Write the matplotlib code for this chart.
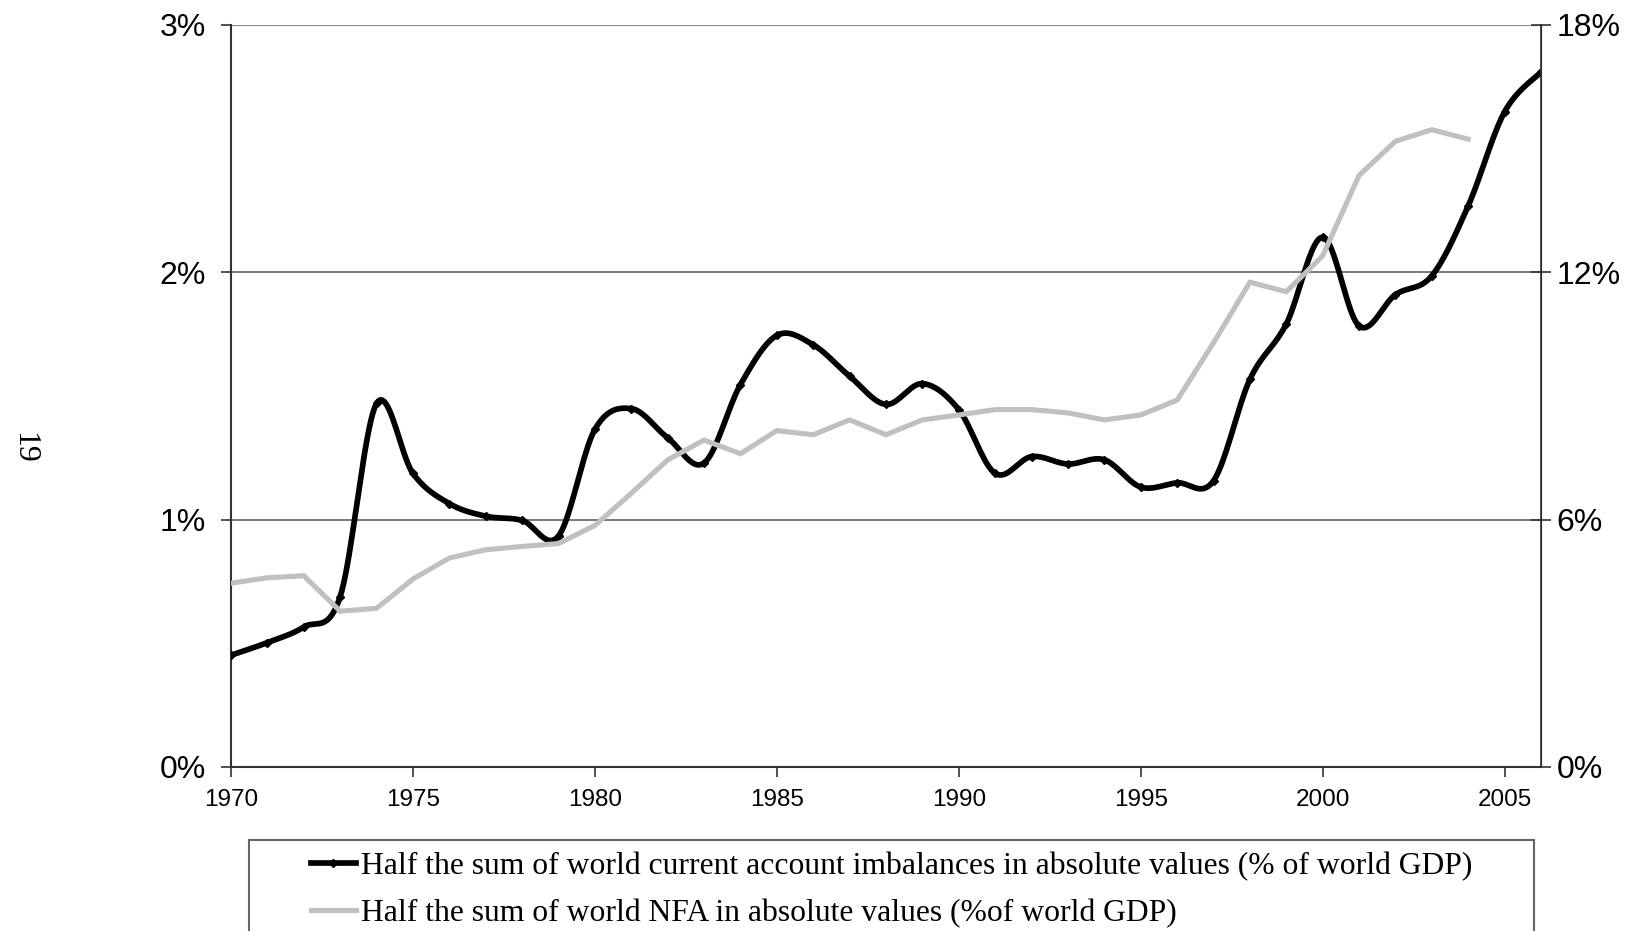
import numpy as np
import matplotlib
matplotlib.use("Agg")
import matplotlib.pyplot as plt
from matplotlib.patches import Rectangle
from matplotlib.lines import Line2D
from matplotlib.ticker import FuncFormatter, FixedLocator

years_ca = list(range(1970, 2007))
ca = [0.452, 0.503, 0.566, 0.689, 1.47, 1.187, 1.065, 1.014, 0.997, 0.934,
      1.365, 1.449, 1.331, 1.229, 1.546, 1.745, 1.707, 1.58, 1.466, 1.55,
      1.445, 1.187, 1.255, 1.225, 1.242, 1.132, 1.149, 1.157, 1.567, 1.791,
      2.142, 1.783, 1.91, 1.986, 2.269, 2.649, 2.81]

years_nfa = list(range(1970, 2005))
nfa = [4.46, 4.59, 4.64, 3.78, 3.85, 4.56, 5.07, 5.27, 5.35, 5.42,
       5.86, 6.64, 7.45, 7.93, 7.6, 8.16, 8.06, 8.42, 8.06, 8.42,
       8.54, 8.67, 8.67, 8.59, 8.42, 8.54, 8.9, 10.29, 11.76, 11.53,
       12.4, 14.35, 15.18, 15.46, 15.23]

label_ca = "Half the sum of world current account imbalances in absolute values (% of world GDP)"
label_nfa = "Half the sum of world NFA in absolute values (%of world GDP)"
page_number = "19"


def smooth(x, y, n=20):
    """Excel-style smoothed line (Catmull-Rom Bezier)."""
    x = np.asarray(x, float)
    y = np.asarray(y, float)
    P = np.column_stack([x, y])
    out = []
    for i in range(len(P) - 1):
        p0 = P[i - 1] if i > 0 else P[i]
        p1 = P[i]
        p2 = P[i + 1]
        p3 = P[i + 2] if i + 2 < len(P) else P[i + 1]
        c1 = p1 + (p2 - p0) / 6.0
        c2 = p2 - (p3 - p1) / 6.0
        t = np.linspace(0, 1, n, endpoint=(i == len(P) - 2))[:, None]
        seg = ((1 - t) ** 3) * p1 + 3 * ((1 - t) ** 2) * t * c1 + 3 * (1 - t) * t ** 2 * c2 + t ** 3 * p2
        out.append(seg)
    out = np.vstack(out)
    return out[:, 0], out[:, 1]


W, H = 1638, 931
fig = plt.figure(figsize=(W / 100, H / 100), dpi=100)
ax = fig.add_axes([231 / W, 1 - 767 / H, (1541 - 231) / W, (767 - 25) / H])
ax2 = ax.twinx()

sx, sy = smooth(years_ca, ca)
ax.plot(sx, sy, color="black", lw=4.1, solid_capstyle="round", zorder=3)
ax.plot(years_ca, ca, ls="none", marker="D", ms=4, color="black", zorder=4)

ax2.plot(years_nfa, nfa, color="#c0c0c0", lw=3.7, solid_joinstyle="miter", zorder=3)

ax.set_xlim(1970, 2006)
ax.set_ylim(0, 3)
ax2.set_ylim(0, 18)

ax.yaxis.set_major_locator(FixedLocator([0, 1, 2, 3]))
ax2.yaxis.set_major_locator(FixedLocator([0, 6, 12, 18]))
ax.yaxis.set_major_formatter(FuncFormatter(lambda v, p: f"{v:.0f}%"))
ax2.yaxis.set_major_formatter(FuncFormatter(lambda v, p: f"{v:.0f}%"))
ax.xaxis.set_major_locator(FixedLocator(list(range(1970, 2006, 5))))

for a in (ax, ax2):
    a.spines["top"].set_visible(False)
ax.spines["left"].set_color("#333333")
ax.spines["left"].set_linewidth(1.5)
ax.spines["bottom"].set_color("#333333")
ax.spines["bottom"].set_linewidth(1.5)
ax2.spines["right"].set_color("#333333")
ax2.spines["right"].set_linewidth(1.2)
ax2.spines["left"].set_visible(False)
ax2.spines["bottom"].set_visible(False)

for v in [1, 2]:
    ax.axhline(v, color="#555555", lw=1.1, zorder=1)
ax.axhline(3, color="#909090", lw=1.6, zorder=1)

ax.tick_params(axis="y", direction="out", length=7, width=1.2, color="#333333",
               labelsize=23, pad=11)
ax2.tick_params(axis="y", direction="inout", length=14, width=1.2, color="#333333",
                labelsize=23, pad=4)
ax.tick_params(axis="x", direction="out", length=7, width=1.2, color="#333333",
               labelsize=17.5, pad=9)
for lab in ax.get_xticklabels() + ax.get_yticklabels() + ax2.get_yticklabels():
    lab.set_fontfamily("Liberation Sans")

# legend frame (extends past the bottom edge of the page)
fig.patches.append(Rectangle((249 / W, -0.05), (1534 - 249) / W, 1 - 840 / H + 0.05,
                             transform=fig.transFigure, fill=False,
                             edgecolor="#666666", lw=1.5, clip_on=False))
handles = [Line2D([], [], color="black", lw=4.1, marker="D", ms=4),
           Line2D([], [], color="#c0c0c0", lw=3.7)]
fig.legend(handles, [label_ca, label_nfa], loc="upper left",
           bbox_to_anchor=(311 / W, 1 - 852 / H), frameon=False,
           prop={"family": "Liberation Serif", "size": 22.8},
           handlelength=1.42, handletextpad=0.15, labelspacing=0.55,
           borderpad=0, borderaxespad=0)

fig.text(24 / W, 1 - 448 / H, page_number, rotation=-90, ha="center", va="center",
         fontsize=23, family="Liberation Serif")

fig.savefig("out.png", dpi=100)
